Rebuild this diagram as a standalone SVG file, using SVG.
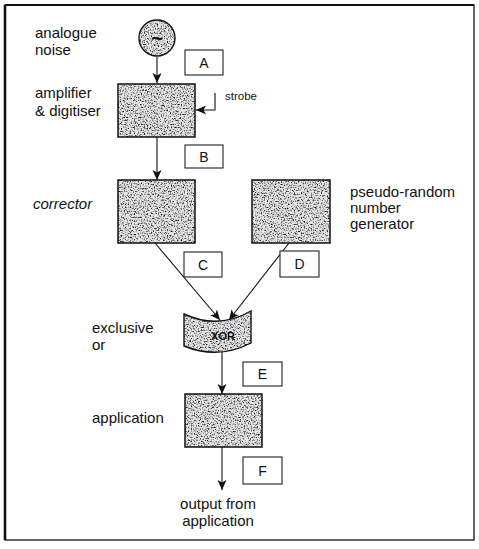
<svg xmlns="http://www.w3.org/2000/svg" width="479" height="549" viewBox="0 0 479 549">
<defs>
<style>
.lbl{font-family:"Liberation Sans",Arial,sans-serif;font-size:15px;fill:#111}
.box{fill:none;stroke:#111;stroke-width:1.5}
.tag{fill:#fff;stroke:#222;stroke-width:1.1}
.tagt{font-family:"Liberation Sans",Arial,sans-serif;font-size:14px;fill:#111;text-anchor:middle}
.con{fill:none;stroke:#111;stroke-width:1.1}
.tex{filter:url(#noise);fill:#000}
</style>
<filter id="noise" x="0" y="0" width="1" height="1" color-interpolation-filters="sRGB">
<feTurbulence type="fractalNoise" baseFrequency="0.7" numOctaves="2" seed="7" result="t"/>
<feColorMatrix in="t" type="matrix" values="0 0 0 0 0  0 0 0 0 0  0 0 0 0 0  -3 0 0 0 1.55" result="dots"/>
<feFlood flood-color="#e4e4e4" result="bg"/>
<feMerge result="m"><feMergeNode in="bg"/><feMergeNode in="dots"/></feMerge>
<feComposite in="m" in2="SourceAlpha" operator="in"/>
</filter>
<marker id="ah" markerUnits="userSpaceOnUse" markerWidth="10" markerHeight="10" refX="10" refY="5" orient="auto" viewBox="0 0 10 10">
<path d="M0,0.5 L10,5 L0,9.5 L2.5,5 z" fill="#111"/>
</marker>
</defs>
<rect width="479" height="549" fill="#fff"/>
<g id="frame">
<rect x="5" y="5" width="469" height="535" fill="none" stroke="#111" stroke-width="1.3"/>
<line x1="5" y1="5" x2="474" y2="5" stroke="#111" stroke-width="2.2"/>
<line x1="5" y1="5" x2="5" y2="540" stroke="#111" stroke-width="2.6"/>
</g>
<g id="connectors">
<line class="con" x1="157" y1="57" x2="157" y2="83" marker-end="url(#ah)"/>
<line class="con" x1="157" y1="137" x2="157" y2="180" marker-end="url(#ah)"/>
<line class="con" x1="155" y1="243" x2="220" y2="320" marker-end="url(#ah)"/>
<line class="con" x1="289" y1="243" x2="229" y2="320" marker-end="url(#ah)"/>
<line class="con" x1="222" y1="352" x2="222" y2="394" marker-end="url(#ah)"/>
<line class="con" x1="222" y1="447" x2="222" y2="490" marker-end="url(#ah)"/>
<polyline class="con" points="215,93 215,110 196,110" marker-end="url(#ah)"/>
</g>
<g id="noise-source">
<circle class="tex" cx="157" cy="38" r="18"/>
<circle cx="157" cy="38" r="18" fill="none" stroke="#111" stroke-width="1.4"/>
<text x="157" y="44" text-anchor="middle" style="font-family:'DejaVu Sans',sans-serif;font-size:17px;font-weight:bold;fill:#111">~</text>
<text class="lbl" x="35" y="38">analogue</text>
<text class="lbl" x="35" y="55">noise</text>
</g>
<g id="amplifier">
<rect class="tex" x="118" y="84" width="77" height="53"/>
<rect class="box" x="118" y="84" width="77" height="53"/>
<text class="lbl" x="35" y="98">amplifier</text>
<text class="lbl" x="35" y="116">&amp; digitiser</text>
<text x="225" y="100" style="font-family:'Liberation Sans',Arial,sans-serif;font-size:11.5px;fill:#111">strobe</text>
</g>
<g id="corrector">
<rect class="tex" x="118" y="180" width="77" height="63"/>
<rect class="box" x="118" y="180" width="77" height="63"/>
<text class="lbl" x="33" y="209" font-style="italic">corrector</text>
</g>
<g id="prng">
<rect class="tex" x="252" y="180" width="78" height="63"/>
<rect class="box" x="252" y="180" width="78" height="63"/>
<text class="lbl" x="350" y="197">pseudo-random</text>
<text class="lbl" x="350" y="213">number</text>
<text class="lbl" x="350" y="229">generator</text>
</g>
<g id="xor">
<path class="tex" d="M184,314 Q218,330 251,311 L251,343 Q218,360 184,346 Z"/>
<path d="M184,314 Q218,330 251,311 L251,343 Q218,360 184,346 Z" fill="none" stroke="#111" stroke-width="1.4"/>
<text x="223" y="340" text-anchor="middle" style="font-family:'Liberation Sans',Arial,sans-serif;font-size:11px;font-weight:bold;fill:#111">XOR</text>
<text class="lbl" x="92" y="333">exclusive</text>
<text class="lbl" x="92" y="350">or</text>
</g>
<g id="application">
<rect class="tex" x="185" y="394" width="77" height="53"/>
<rect class="box" x="185" y="394" width="77" height="53"/>
<text class="lbl" x="92" y="423">application</text>
</g>
<g id="output">
<text class="lbl" x="218" y="509" text-anchor="middle">output from</text>
<text class="lbl" x="218" y="526" text-anchor="middle">application</text>
</g>
<g id="tags">
<rect class="tag" x="185" y="50" width="38" height="25"/><text class="tagt" x="204" y="68">A</text>
<rect class="tag" x="185" y="145" width="38" height="23"/><text class="tagt" x="204" y="162">B</text>
<rect class="tag" x="184" y="252" width="38" height="25"/><text class="tagt" x="203" y="270">C</text>
<rect class="tag" x="280" y="251" width="39" height="26"/><text class="tagt" x="299.5" y="269">D</text>
<rect class="tag" x="243" y="362" width="39" height="24"/><text class="tagt" x="262.5" y="379">E</text>
<rect class="tag" x="243" y="457" width="39" height="27"/><text class="tagt" x="262.5" y="476">F</text>
</g>
</svg>
